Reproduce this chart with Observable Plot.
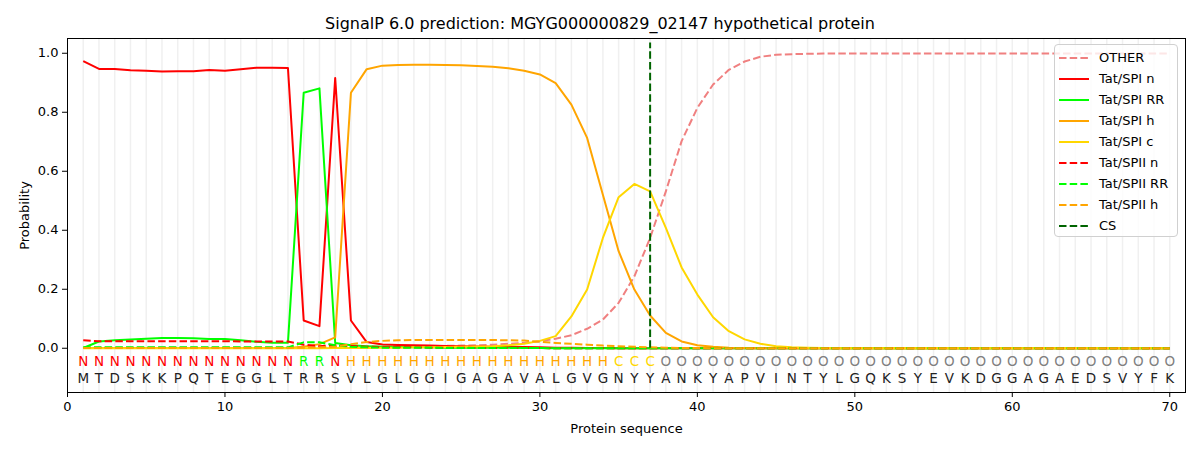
<!DOCTYPE html>
<html>
<head>
<meta charset="utf-8">
<script src="https://cdn.jsdelivr.net/npm/d3@7"></script>
<script src="https://cdn.jsdelivr.net/npm/@observablehq/plot@0.6"></script>
<style>
  body { margin: 0; background: white; font-family: "DejaVu Sans", sans-serif; }
  #wrap { position: relative; width: 1200px; height: 450px; }
  #title { height: 37px; box-sizing: border-box; padding-top: 14px; text-align: center; font-size: 16px; line-height: 20px; color: #000; }
  #legend { position: absolute; left: 1054px; top: 44px; width: 124px; height: 193px; box-sizing: border-box;
    border: 1px solid #d0d0d0; border-radius: 4px; background: rgba(255,255,255,0.8); padding-top: 2px; }
  .row { height: 21px; display: flex; align-items: center; font-size: 13px; }
  .row svg { margin-left: 4px; margin-right: 10px; }
</style>
</head>
<body>
<div id="wrap">
  <div id="title">SignalP 6.0 prediction: MGYG000000829_02147 hypothetical protein</div>
  <div id="chart"></div>
  <div id="legend"></div>
</div>
<script>
const sequence = "MTDSKKPQTEGGLTRRSVLGLGGIGAGAVALGVGNYYANKYAPVINTYLGQKSYEVKDGGAGAEDSVYFK";
const regionLabels = "NNNNNNNNNNNNNNRRNHHHHHHHHHHHHHHHHHCCCOOOOOOOOOOOOOOOOOOOOOOOOOOOOOOOOO";
const xTicks = [0, 10, 20, 30, 40, 50, 60, 70];
const yTicks = [0, 0.2, 0.4, 0.6, 0.8, 1.0];
const csPosition = 37;

const other = [
  0.002,0.002,0.002,0.002,0.002,0.002,0.002,0.002,0.002,0.002,
  0.002,0.002,0.002,0.002,0.005,0.005,0.004,0.004,0.005,0.005,
  0.006,0.006,0.007,0.008,0.009,0.010,0.012,0.015,0.018,0.024,
  0.032,0.044,0.066,0.097,0.154,0.244,0.374,0.532,0.702,0.815,
  0.894,0.944,0.972,0.988,0.995,0.997,0.998,0.999,0.999,0.999,
  0.999,0.999,0.999,0.999,0.999,0.999,0.999,0.999,0.999,0.999,
  0.999,0.999,0.999,0.999,0.999,0.999,0.999,0.999,0.999,0.999
];
const tatSpiN = [
  0.973,0.947,0.947,0.942,0.941,0.938,0.939,0.939,0.943,0.941,
  0.946,0.951,0.951,0.950,0.094,0.075,0.916,0.094,0.021,0.013,
  0.011,0.010,0.009,0.008,0.007,0.006,0.005,0.005,0.004,0.003,
  0.002,0.002,0.001,0.001,0,0,0,0,0,0,
  0,0,0,0,0,0,0,0,0,0,
  0,0,0,0,0,0,0,0,0,0,
  0,0,0,0,0,0,0,0,0,0
];
const tatSpiRR = [
  0.001,0.023,0.027,0.030,0.032,0.035,0.035,0.034,0.031,0.031,
  0.027,0.022,0.019,0.019,0.866,0.881,0.018,0.010,0.007,0.005,
  0.004,0.003,0.003,0.002,0.002,0.002,0.002,0.002,0.001,0.001,
  0,0,0,0,0,0,0,0,0,0,
  0,0,0,0,0,0,0,0,0,0,
  0,0,0,0,0,0,0,0,0,0,
  0,0,0,0,0,0,0,0,0,0
];
const tatSpiH = [
  0.001,0.001,0.001,0.001,0.001,0.001,0.001,0.001,0.001,0.001,
  0.001,0.001,0.001,0.001,0.005,0.014,0.037,0.866,0.946,0.958,
  0.960,0.961,0.961,0.960,0.959,0.957,0.954,0.949,0.941,0.928,
  0.899,0.826,0.713,0.520,0.329,0.199,0.111,0.052,0.023,0.010,
  0.005,0.002,0.001,0,0,0,0,0,0,0,
  0,0,0,0,0,0,0,0,0,0,
  0,0,0,0,0,0,0,0,0,0
];
const tatSpiC = [
  0,0,0,0,0,0,0,0,0,0,
  0,0,0,0,0,0,0.001,0.001,0.001,0.002,
  0.002,0.003,0.003,0.004,0.005,0.006,0.007,0.010,0.015,0.025,
  0.041,0.108,0.199,0.374,0.512,0.557,0.532,0.408,0.274,0.182,
  0.105,0.058,0.030,0.015,0.007,0.003,0.002,0.001,0,0,
  0,0,0,0,0,0,0,0,0,0,
  0,0,0,0,0,0,0,0,0,0
];
const tatSpiiN = [
  0.027,0.024,0.024,0.024,0.024,0.024,0.024,0.024,0.024,0.024,
  0.023,0.023,0.023,0.023,0.012,0.007,0.010,0.008,0.005,0.004,
  0.003,0.003,0.002,0.002,0.002,0.001,0.001,0.001,0.001,0.001,
  0,0,0,0,0,0,0,0,0,0,
  0,0,0,0,0,0,0,0,0,0,
  0,0,0,0,0,0,0,0,0,0,
  0,0,0,0,0,0,0,0,0,0
];
const tatSpiiRR = [
  0.003,0.003,0.003,0.003,0.003,0.003,0.003,0.003,0.003,0.003,
  0.003,0.003,0.003,0.003,0.020,0.020,0.010,0.005,0.003,0.002,
  0.002,0.002,0.002,0.001,0.001,0.001,0.001,0.001,0.001,0.001,
  0,0,0,0,0,0,0,0,0,0,
  0,0,0,0,0,0,0,0,0,0,
  0,0,0,0,0,0,0,0,0,0,
  0,0,0,0,0,0,0,0,0,0
];
const tatSpiiH = [
  0.001,0.001,0.001,0.001,0.001,0.001,0.001,0.001,0.001,0.001,
  0.001,0.001,0.001,0.001,0.002,0.003,0.005,0.014,0.021,0.025,
  0.027,0.028,0.028,0.028,0.028,0.028,0.028,0.027,0.026,0.022,
  0.018,0.015,0.012,0.009,0.007,0.005,0.003,0.002,0.001,0.001,
  0,0,0,0,0,0,0,0,0,0,
  0,0,0,0,0,0,0,0,0,0,
  0,0,0,0,0,0,0,0,0,0
];

const DASH = "7.5,3.2";
const seriesDefs = [
  { name: "OTHER", values: other, color: "#f08080", dash: DASH },
  { name: "Tat/SPI n", values: tatSpiN, color: "#ff0000", dash: null },
  { name: "Tat/SPI RR", values: tatSpiRR, color: "#00ff00", dash: null },
  { name: "Tat/SPI h", values: tatSpiH, color: "#ffa500", dash: null },
  { name: "Tat/SPI c", values: tatSpiC, color: "#ffd700", dash: null },
  { name: "Tat/SPII n", values: tatSpiiN, color: "#ff0000", dash: DASH },
  { name: "Tat/SPII RR", values: tatSpiiRR, color: "#00ff00", dash: DASH },
  { name: "Tat/SPII h", values: tatSpiiH, color: "#ffa500", dash: DASH }
];
const labelColors = { N: "#ff0000", R: "#00ff00", H: "#ffa500", C: "#ffd700", O: "#808080" };

const residues = sequence.split("").map((aa, i) => ({ pos: i + 1, aa, region: regionLabels[i] }));

const lineMarks = seriesDefs.map(s =>
  Plot.line(s.values.map((v, i) => ({ pos: i + 1, p: v })), {
    x: "pos", y: "p", stroke: s.color, strokeWidth: 2,
    strokeDasharray: s.dash || undefined, strokeLinejoin: "round", strokeLinecap: "butt"
  })
);

const chart = Plot.plot({
  width: 1200,
  height: 413,
  marginTop: 1,
  marginBottom: 58,
  marginLeft: 67,
  marginRight: 15,
  x: { domain: [0, 71] },
  y: { domain: [-0.15, 1.05] },
  style: { fontFamily: "DejaVu Sans, sans-serif", fontSize: "13px", background: "white", color: "black" },
  marks: [
    Plot.ruleX(residues, { x: "pos", stroke: "#f0f0f0", strokeWidth: 1.5 }),
    ...lineMarks,
    Plot.ruleX([csPosition], { x: d => d, y1: 0, y2: 1.035, stroke: "#006400", strokeWidth: 2, strokeDasharray: DASH }),
    Plot.text(residues, { x: "pos", y: -0.047, text: "region", fill: d => labelColors[d.region], fontSize: 13.5 }),
    Plot.text(residues, { x: "pos", y: -0.102, text: "aa", fill: "#222", fontSize: 13.5 }),
    Plot.frame({ stroke: "black" }),
    Plot.axisX({ ticks: xTicks, tickSize: 5, tickPadding: 4, fontSize: 13, label: "Protein sequence", labelAnchor: "center", labelArrow: "none", labelOffset: 40 }),
    Plot.axisY({ ticks: yTicks, tickSize: 5, tickPadding: 4, fontSize: 13, tickFormat: d3.format(".1f"), label: "Probability", labelAnchor: "center", labelArrow: "none", labelOffset: 48 })
  ]
});
document.getElementById("chart").appendChild(chart);

const legendItems = [...seriesDefs.map(s => ({ name: s.name, color: s.color, dash: s.dash })),
  { name: "CS", color: "#006400", dash: DASH }];
const legend = document.getElementById("legend");
for (const it of legendItems) {
  const row = document.createElement("div");
  row.className = "row";
  row.innerHTML = `<svg width="30" height="4"><line x1="0" y1="2" x2="30" y2="2" stroke="${it.color}" stroke-width="2" ${it.dash ? `stroke-dasharray="${it.dash}"` : ""}/></svg><span>${it.name}</span>`;
  legend.appendChild(row);
}
</script>
</body>
</html>
